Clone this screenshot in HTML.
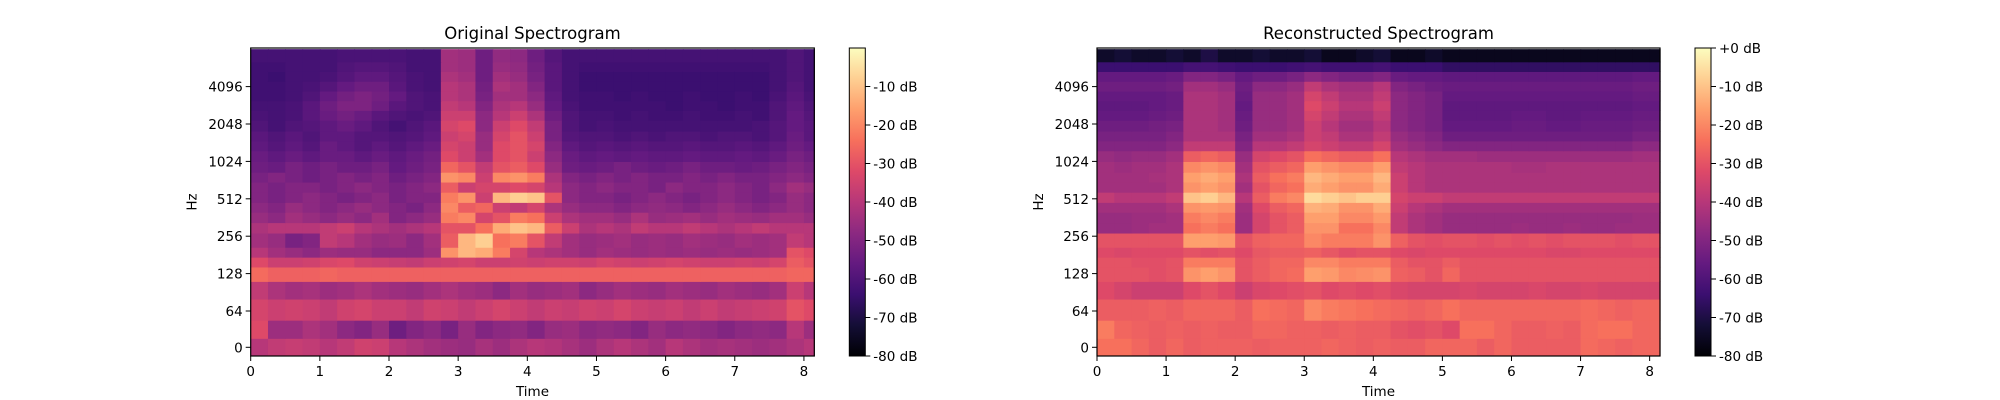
<!DOCTYPE html>
<html><head><meta charset="utf-8"><style>
body{margin:0;background:#fff;}
svg{display:block;font-family:"DejaVu Sans","Liberation Sans",sans-serif;}
</style></head><body>
<svg id="fig" width="2000" height="400" viewBox="0 0 2000 400">
<defs>
<linearGradient id="magma" x1="0" y1="1" x2="0" y2="0">
<stop offset="0" stop-color="rgb(0,0,4)"/><stop offset="0.1" stop-color="rgb(20,14,54)"/><stop offset="0.2" stop-color="rgb(59,15,112)"/><stop offset="0.3" stop-color="rgb(100,26,128)"/><stop offset="0.4" stop-color="rgb(140,41,129)"/><stop offset="0.5" stop-color="rgb(183,55,121)"/><stop offset="0.6" stop-color="rgb(222,73,104)"/><stop offset="0.7" stop-color="rgb(247,112,92)"/><stop offset="0.8" stop-color="rgb(254,159,109)"/><stop offset="0.9" stop-color="rgb(254,207,146)"/><stop offset="1" stop-color="rgb(252,253,191)"/>
</linearGradient>
</defs>
</svg>
<script>
// ---- data ----
const times = [0,0.25,0.5,0.75,1,1.25,1.5,1.75,2,2.25,2.5,2.75,3,3.25,3.5,3.75,4,4.25,4.5,4.75,5,5.25,5.5,5.75,6,6.25,6.5,6.75,7,7.25,7.5,7.75,8];
const timeMax = 8.15;
const freqEdges = [-15,16,48,80,111,145,174,209,272,330,400,480,580,700,840,1024,1250,1500,1800,2200,2640,3160,3780,4530,5430,6500,8200];
const xTicks = [0,1,2,3,4,5,6,7,8];
const yTicks = [0,64,128,256,512,1024,2048,4096];
const cbTicksLeft = [-10,-20,-30,-40,-50,-60,-70,-80];
const cbTicksRight = [0,-10,-20,-30,-40,-50,-60,-70,-80];
const origDb = [
[-40,-38,-37,-38,-40,-38,-35,-36,-40,-42,-44,-45,-46,-43,-45,-42,-40,-41,-43,-45,-42,-40,-42,-44,-40,-42,-44,-43,-44,-45,-44,-42,-40],
[-32,-45,-45,-42,-44,-48,-50,-46,-54,-50,-48,-52,-46,-50,-48,-47,-50,-46,-45,-48,-47,-48,-50,-46,-48,-47,-48,-50,-48,-47,-48,-40,-45],
[-34,-36,-35,-36,-38,-35,-34,-36,-36,-38,-35,-36,-38,-36,-34,-36,-38,-36,-37,-35,-36,-34,-36,-37,-36,-38,-36,-38,-37,-36,-35,-30,-32],
[-38,-42,-44,-43,-45,-44,-42,-44,-45,-46,-44,-42,-44,-45,-48,-44,-46,-45,-44,-48,-46,-44,-45,-46,-44,-45,-46,-44,-45,-46,-44,-36,-40],
[-25,-27,-27,-27,-26,-27,-27,-27,-27,-27,-27,-27,-27,-27,-27,-27,-27,-27,-27,-27,-27,-27,-27,-27,-27,-27,-27,-27,-27,-27,-27,-26,-26],
[-32,-36,-36,-35,-33,-32,-35,-36,-37,-38,-36,-35,-34,-36,-36,-35,-36,-35,-35,-36,-34,-35,-36,-35,-34,-35,-36,-36,-35,-36,-34,-28,-30],
[-40,-44,-46,-48,-45,-46,-46,-48,-48,-48,-45,-18,-12,-14,-22,-34,-40,-42,-44,-46,-44,-45,-46,-45,-46,-45,-46,-45,-46,-45,-44,-30,-32],
[-44,-46,-52,-50,-38,-40,-44,-46,-45,-48,-44,-28,-12,-8,-24,-22,-30,-38,-44,-46,-45,-44,-46,-45,-46,-44,-45,-46,-44,-45,-44,-38,-40],
[-42,-40,-40,-40,-38,-36,-40,-42,-44,-42,-40,-30,-30,-24,-14,-10,-12,-28,-36,-42,-40,-42,-38,-40,-40,-38,-40,-42,-40,-38,-40,-40,-40],
[-46,-48,-44,-46,-48,-46,-48,-44,-50,-48,-46,-22,-20,-34,-30,-22,-24,-36,-42,-44,-44,-46,-42,-46,-45,-44,-46,-44,-45,-46,-44,-44,-46],
[-48,-50,-46,-48,-50,-48,-46,-48,-50,-52,-48,-20,-28,-26,-36,-38,-34,-42,-46,-48,-48,-50,-48,-47,-48,-50,-48,-46,-48,-50,-48,-46,-48],
[-50,-52,-50,-48,-50,-52,-50,-48,-52,-50,-50,-22,-18,-36,-12,-8,-10,-30,-48,-50,-50,-52,-50,-48,-50,-52,-50,-48,-50,-52,-50,-46,-48],
[-50,-52,-50,-50,-52,-50,-48,-50,-52,-50,-48,-28,-36,-34,-34,-32,-34,-40,-48,-50,-48,-50,-50,-52,-48,-50,-50,-48,-50,-52,-48,-44,-46],
[-52,-50,-52,-54,-52,-50,-52,-50,-54,-52,-50,-18,-20,-36,-20,-18,-22,-42,-50,-52,-50,-52,-50,-52,-52,-50,-52,-50,-52,-52,-50,-48,-50],
[-54,-55,-52,-54,-52,-54,-54,-52,-56,-54,-52,-26,-30,-38,-30,-28,-32,-46,-54,-55,-54,-52,-54,-55,-54,-52,-54,-54,-55,-54,-52,-50,-52],
[-55,-57,-55,-57,-55,-55,-57,-55,-57,-55,-53,-32,-36,-44,-32,-30,-36,-48,-55,-57,-56,-57,-56,-57,-57,-56,-57,-57,-56,-57,-55,-52,-54],
[-57,-59,-57,-59,-55,-57,-59,-57,-59,-57,-55,-34,-36,-46,-32,-30,-34,-50,-57,-59,-58,-59,-58,-59,-59,-58,-59,-59,-58,-59,-57,-54,-56],
[-58,-60,-58,-60,-57,-57,-59,-59,-60,-59,-57,-36,-34,-46,-34,-30,-36,-52,-59,-60,-60,-61,-60,-61,-60,-60,-61,-60,-60,-61,-59,-55,-58],
[-60,-62,-60,-59,-57,-55,-57,-60,-62,-60,-58,-34,-32,-48,-36,-32,-38,-52,-60,-62,-61,-62,-62,-62,-62,-62,-62,-62,-62,-61,-59,-56,-58],
[-61,-62,-61,-58,-55,-53,-55,-58,-60,-61,-60,-36,-36,-48,-40,-36,-42,-54,-60,-62,-62,-63,-62,-63,-63,-62,-63,-63,-62,-63,-60,-56,-59],
[-62,-62,-61,-58,-54,-51,-51,-54,-58,-60,-61,-38,-40,-50,-42,-40,-46,-56,-61,-63,-63,-63,-63,-63,-64,-63,-63,-64,-63,-63,-60,-57,-60],
[-63,-63,-62,-60,-56,-53,-51,-53,-56,-60,-61,-40,-42,-52,-44,-44,-48,-57,-62,-63,-63,-64,-63,-64,-64,-63,-64,-64,-63,-64,-61,-58,-61],
[-63,-63,-62,-61,-59,-56,-54,-54,-58,-61,-62,-40,-42,-53,-42,-44,-50,-58,-62,-64,-64,-64,-64,-64,-64,-64,-64,-64,-64,-64,-62,-59,-62],
[-63,-64,-62,-62,-61,-59,-57,-57,-59,-61,-62,-42,-44,-54,-44,-46,-52,-58,-62,-64,-64,-64,-64,-64,-64,-64,-64,-64,-64,-64,-62,-60,-62],
[-63,-63,-62,-62,-62,-60,-59,-59,-60,-62,-62,-44,-45,-54,-46,-47,-53,-58,-62,-63,-63,-63,-63,-63,-63,-63,-63,-63,-63,-63,-62,-60,-62],
[-62,-62,-62,-62,-62,-61,-61,-61,-61,-62,-62,-44,-45,-54,-47,-48,-54,-59,-62,-62,-62,-62,-62,-62,-62,-62,-62,-62,-62,-62,-62,-60,-62]
];
const reconDb = [
[-24,-24,-26,-28,-26,-28,-27,-27,-27,-28,-27,-27,-27,-26,-27,-28,-27,-28,-28,-26,-26,-26,-28,-26,-28,-28,-28,-28,-25,-26,-27,-26,-26],
[-22,-26,-27,-28,-27,-28,-27,-28,-28,-26,-26,-27,-27,-28,-27,-28,-28,-30,-31,-30,-32,-24,-24,-26,-28,-28,-27,-28,-25,-24,-24,-26,-26],
[-28,-28,-28,-27,-28,-26,-26,-26,-28,-24,-25,-26,-20,-22,-23,-24,-25,-26,-27,-26,-24,-26,-26,-26,-26,-26,-26,-26,-25,-26,-27,-26,-26],
[-32,-34,-36,-36,-36,-32,-30,-32,-36,-33,-32,-31,-30,-32,-31,-32,-31,-33,-34,-34,-34,-33,-34,-34,-34,-33,-34,-34,-33,-34,-34,-34,-34],
[-30,-30,-30,-31,-30,-18,-16,-18,-30,-28,-26,-25,-16,-17,-20,-19,-18,-27,-28,-30,-26,-30,-30,-30,-30,-30,-30,-30,-30,-30,-30,-30,-30],
[-30,-30,-31,-31,-30,-22,-22,-22,-30,-28,-26,-26,-20,-20,-22,-22,-22,-28,-30,-30,-28,-30,-30,-30,-30,-30,-30,-30,-30,-30,-30,-30,-30],
[-32,-33,-32,-32,-32,-30,-31,-30,-32,-29,-28,-28,-27,-29,-31,-30,-30,-32,-33,-32,-32,-32,-32,-32,-32,-32,-33,-33,-32,-32,-32,-32,-32],
[-30,-30,-30,-30,-30,-16,-16,-17,-30,-27,-26,-26,-20,-22,-22,-22,-18,-27,-30,-31,-30,-30,-31,-30,-31,-30,-31,-30,-30,-30,-31,-30,-30],
[-46,-46,-45,-44,-44,-24,-22,-24,-45,-34,-30,-28,-18,-18,-24,-24,-20,-38,-42,-44,-46,-46,-46,-46,-45,-46,-46,-45,-46,-46,-45,-45,-45],
[-46,-46,-45,-45,-44,-22,-20,-22,-45,-34,-30,-28,-16,-16,-20,-20,-17,-38,-42,-44,-46,-46,-46,-46,-46,-46,-46,-46,-46,-46,-46,-45,-45],
[-44,-44,-44,-44,-42,-18,-17,-18,-44,-32,-28,-26,-13,-14,-18,-18,-14,-36,-40,-42,-44,-44,-44,-44,-44,-44,-44,-44,-44,-44,-44,-44,-44],
[-38,-40,-40,-40,-38,-10,-8,-12,-40,-28,-22,-20,-6,-8,-10,-8,-8,-34,-36,-36,-38,-38,-38,-38,-38,-38,-38,-38,-38,-38,-38,-38,-38],
[-44,-44,-44,-44,-42,-18,-16,-18,-44,-30,-26,-24,-14,-16,-18,-18,-14,-36,-40,-42,-42,-42,-42,-42,-42,-42,-42,-42,-42,-42,-42,-42,-42],
[-44,-44,-44,-43,-42,-16,-14,-16,-42,-28,-24,-22,-12,-14,-16,-16,-12,-36,-40,-42,-42,-42,-42,-42,-42,-42,-42,-42,-42,-42,-42,-42,-42],
[-44,-45,-44,-44,-42,-20,-18,-20,-44,-30,-28,-26,-16,-18,-20,-20,-16,-38,-40,-42,-42,-42,-42,-42,-43,-43,-42,-42,-42,-42,-42,-42,-42],
[-46,-47,-46,-46,-44,-28,-26,-28,-46,-34,-32,-30,-24,-26,-28,-28,-24,-40,-42,-44,-44,-44,-45,-45,-45,-45,-45,-45,-45,-45,-45,-44,-44],
[-50,-50,-50,-50,-48,-38,-38,-38,-50,-40,-40,-38,-34,-36,-38,-38,-34,-44,-46,-48,-50,-50,-50,-50,-50,-50,-50,-50,-50,-50,-50,-48,-48],
[-52,-52,-52,-52,-50,-42,-42,-42,-52,-44,-44,-42,-36,-38,-42,-42,-38,-46,-48,-50,-54,-54,-54,-54,-54,-54,-54,-54,-54,-54,-54,-52,-52],
[-54,-54,-54,-53,-52,-42,-42,-44,-54,-46,-46,-44,-36,-40,-44,-44,-40,-48,-50,-52,-56,-56,-56,-56,-55,-55,-56,-56,-55,-55,-55,-54,-54],
[-56,-56,-56,-55,-54,-42,-42,-44,-55,-46,-46,-44,-34,-38,-42,-42,-38,-48,-50,-52,-57,-57,-57,-57,-56,-56,-57,-57,-56,-56,-56,-55,-55],
[-57,-57,-57,-56,-55,-42,-42,-44,-56,-46,-46,-44,-32,-36,-40,-40,-36,-48,-50,-52,-57,-57,-57,-57,-57,-57,-57,-57,-57,-57,-57,-56,-56],
[-56,-56,-56,-56,-55,-42,-42,-44,-55,-46,-46,-44,-34,-38,-42,-42,-38,-48,-50,-52,-56,-56,-56,-56,-56,-56,-56,-56,-56,-56,-56,-55,-55],
[-54,-54,-54,-54,-53,-44,-44,-46,-54,-48,-48,-46,-38,-42,-44,-44,-40,-50,-52,-54,-55,-55,-55,-55,-55,-55,-55,-55,-55,-55,-55,-54,-54],
[-56,-56,-56,-56,-55,-50,-50,-52,-56,-54,-54,-52,-48,-50,-52,-52,-50,-55,-56,-56,-57,-57,-57,-57,-57,-57,-57,-57,-57,-57,-57,-56,-56],
[-64,-64,-64,-64,-64,-62,-62,-63,-64,-64,-64,-63,-62,-63,-63,-63,-62,-64,-64,-64,-66,-66,-66,-66,-66,-66,-66,-66,-66,-66,-66,-66,-66],
[-74,-72,-74,-74,-72,-74,-70,-74,-74,-72,-74,-74,-72,-76,-76,-74,-72,-76,-76,-74,-76,-76,-76,-76,-76,-76,-76,-76,-76,-76,-76,-76,-76]
];
// ---- rendering ----
const NS='http://www.w3.org/2000/svg';
const svg=document.getElementById('fig');
const stops=[[0,0,4],[20,14,54],[59,15,112],[100,26,128],[140,41,129],[183,55,121],[222,73,104],[247,112,92],[254,159,109],[254,207,146],[252,253,191]];
function magma(db){let t=(db+80)/80;t=Math.max(0,Math.min(1,t))*10;const i=Math.min(9,Math.floor(t)),f=t-i;const a=stops[i],b=stops[i+1];return `rgb(${Math.round(a[0]+(b[0]-a[0])*f)},${Math.round(a[1]+(b[1]-a[1])*f)},${Math.round(a[2]+(b[2]-a[2])*f)})`;}
function mk(tag,attrs,parent){const e=document.createElementNS(NS,tag);for(const k in attrs)e.setAttribute(k,attrs[k]);(parent||svg).appendChild(e);return e;}
const TOP=48,BOT=356;
function yScale(f){return f<64?347.3-f/64*36.3:311-Math.log2(f/64)*37.4;}
function drawPanel(x0,x1,data,title,cbTicks,prefix){
  const xs=t=>x0+t/timeMax*(x1-x0);
  const g=mk('g',{});
  
  
  for(let r=0;r<data.length;r++){
    const ya=Math.max(TOP,yScale(freqEdges[r+1])),yb=Math.min(BOT,yScale(freqEdges[r]));
    for(let c=0;c<times.length;c++){
      const xa=xs(times[c]),xb=Math.min(x1,xs(c+1<times.length?times[c+1]:timeMax));
      if(xb<=xa)continue;
      const rc=mk('rect',{x:xa.toFixed(2),y:ya.toFixed(2),width:(xb-xa+0.6).toFixed(2),height:(yb-ya+0.6).toFixed(2),fill:magma(data[r][c])},g);
      
      
    }
  }
  const fr=mk('rect',{x:x0,y:TOP,width:x1-x0,height:BOT-TOP,fill:'none',stroke:'#000','stroke-width':1.2});
  
  
  for(const t of xTicks){const x=xs(t);mk('line',{x1:x,x2:x,y1:BOT,y2:BOT+5,stroke:'#000'});
    const tx=mk('text',{x:x,y:BOT+20,'text-anchor':'middle','font-size':13.5});tx.textContent=t;
    
    }
  for(const f of yTicks){const y=yScale(f);mk('line',{x1:x0-5,x2:x0,y1:y,y2:y,stroke:'#000'});
    const ty=mk('text',{x:x0-8,y:y+5,'text-anchor':'end','font-size':13.5});ty.textContent=f;
    
    }
  const tt=mk('text',{x:(x0+x1)/2,y:39,'text-anchor':'middle','font-size':16.5});tt.textContent=title;
  
  
  const xl=mk('text',{x:(x0+x1)/2,y:396,'text-anchor':'middle','font-size':13.5});xl.textContent='Time';
  
  
  const yl=mk('text',{x:0,y:0,'text-anchor':'middle','font-size':13.5,transform:`translate(${x0-54},${(TOP+BOT)/2}) rotate(-90)`});yl.textContent='Hz';
  
  
  const cx=x1+35,cw=16;
  const cb=mk('rect',{x:cx,y:TOP,width:cw,height:BOT-TOP,fill:'url(#magma)',stroke:'#000','stroke-width':1});
  
  
  for(const d of cbTicks){const y=BOT-(d+80)/80*(BOT-TOP);mk('line',{x1:cx+cw,x2:cx+cw+5,y1:y,y2:y,stroke:'#000'});
    const ct=mk('text',{x:cx+cw+8,y:y+5,'font-size':13.5});ct.textContent=(d===0?'+0':d)+' dB';
    
    }
}
drawPanel(250.7,814.3,origDb,'Original Spectrogram',cbTicksLeft,'original');
drawPanel(1097,1660,reconDb,'Reconstructed Spectrogram',cbTicksRight,'reconstructed');
</script>
</body></html>
